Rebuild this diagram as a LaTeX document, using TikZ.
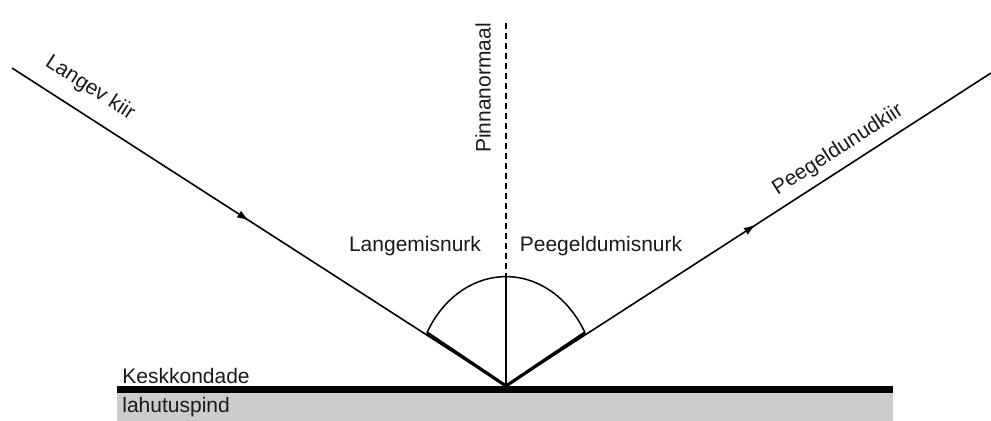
\documentclass[tikz,border=0pt]{standalone}
\usepackage{fontspec}
\setmainfont{Liberation Sans}
\usetikzlibrary{arrows.meta,decorations.markings}
\definecolor{ground}{HTML}{CCCCCC}
\definecolor{ink}{HTML}{1A1A1A}
\begin{document}
\begin{tikzpicture}[x=0.5pt,y=-0.5pt,
  lbl/.style={font=\fontsize{10.5}{12}\selectfont, text=ink, inner sep=0pt},
  ray/.style={line width=0.8pt},
  thickseg/.style={line width=1.6pt},
  arrowat/.style={postaction={decorate},decoration={markings,mark=at position #1 with {\arrow{Latex[length=6pt,width=4pt]}}}}
]
\useasboundingbox (0,0) rectangle (991,421);
% ground
\fill[ground] (117,391) rectangle (893,421);
\coordinate (SL) at (117,389.5);
\coordinate (SR) at (893,389.5);
\draw[line width=3.5pt] (SL) -- (SR);
% key points
\coordinate (O) at (506,386);
\coordinate (A) at (12,68);
\coordinate (B) at (991,73);
\coordinate (N) at (506,23);
\coordinate (T) at (506,277);
\coordinate (AL) at (426.9,332.8);
\coordinate (AR) at (585.1,332.8);
% rays
\draw[ray,arrowat=0.48] (A) -- (O);
\draw[ray,arrowat=0.515] (O) -- (B);
\draw[thickseg] (AL) -- (O);
\draw[thickseg] (O) -- (AR);
% normal
\draw[line width=0.75pt,dash pattern=on 3pt off 2pt] (N) -- (T);
\draw[line width=0.85pt] (T) -- (O);
% angle arc
\draw[line width=0.75pt] (AL) arc[start angle=151, end angle=29, x radius=90.4, y radius=-109];
% labels
\node[lbl,rotate=-32.8] (l1) at (90,88) {Langev kiir};
\node[lbl,rotate=32.8] (l2) at (838,150) {Peegeldunudkiir};
\node[lbl,rotate=90] (l3) at (483,88) {Pinnanormaal};
\node[lbl] (l4) at (415,246) {Langemisnurk};
\node[lbl] (l5) at (601,246) {Peegeldumisnurk};
\node[lbl,anchor=base west] (l6) at (122,384) {Keskkondade};
\node[lbl,anchor=base west] (l7) at (122,413) {lahutuspind};
\end{tikzpicture}
\end{document}
